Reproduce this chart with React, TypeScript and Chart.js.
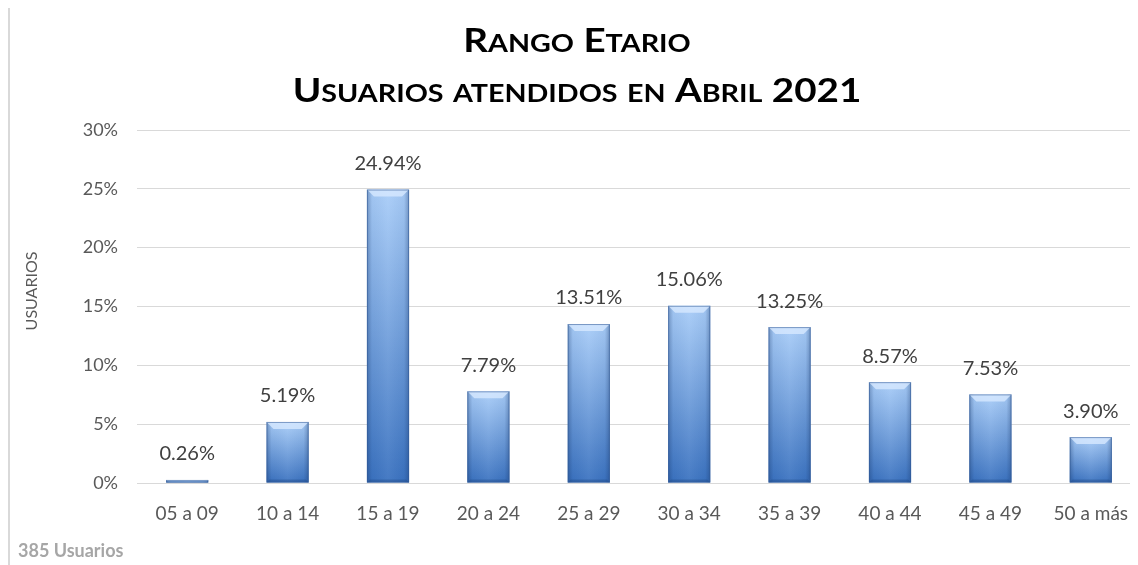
import React, { useEffect, useRef } from "react";
import { Chart, registerables } from "chart.js";

Chart.register(...registerables);

const categories = ["05 a 09", "10 a 14", "15 a 19", "20 a 24", "25 a 29", "30 a 34", "35 a 39", "40 a 44", "45 a 49", "50 a más"];
const percentages = [0.26, 5.19, 24.94, 7.79, 13.51, 15.06, 13.25, 8.57, 7.53, 3.9];
const titleLines = ["Rango Etario", "Usuarios atendidos en Abril 2021"];
const yAxisTitle = "USUARIOS";
const footnote = "385 Usuarios";
const yMax = 30;
const yStep = 5;

const FONT = "Lato, 'Open Sans', sans-serif";

const barBevelPlugin = {
  id: "barBevel",
  afterDatasetsDraw(chart: any) {
    const meta = chart.getDatasetMeta(0);
    const ctx = chart.ctx;
    meta.data.forEach((el: any) => {
      const { x, y, base, width } = el.getProps(["x", "y", "base", "width"], true);
      const l = x - width / 2;
      const r = x + width / 2;
      const t = Math.min(y, base);
      const b = Math.max(y, base);
      const h = b - t;
      if (h < 1) return;
      ctx.save();
      const hg = ctx.createLinearGradient(l, 0, r, 0);
      hg.addColorStop(0, "rgba(20,50,100,0.35)");
      hg.addColorStop(0.12, "rgba(20,50,100,0.05)");
      hg.addColorStop(0.5, "rgba(255,255,255,0.06)");
      hg.addColorStop(0.88, "rgba(20,50,100,0.05)");
      hg.addColorStop(1, "rgba(20,50,100,0.35)");
      ctx.fillStyle = hg;
      ctx.fillRect(l, t, width, h);
      const bv = Math.min(7, h / 2);
      ctx.beginPath();
      ctx.moveTo(l, t);
      ctx.lineTo(r, t);
      ctx.lineTo(r - bv, t + bv);
      ctx.lineTo(l + bv, t + bv);
      ctx.closePath();
      ctx.fillStyle = "rgba(215,232,255,0.8)";
      ctx.fill();
      const bb = Math.min(3, h / 3);
      ctx.beginPath();
      ctx.moveTo(l, b);
      ctx.lineTo(r, b);
      ctx.lineTo(r - bb, b - bb);
      ctx.lineTo(l + bb, b - bb);
      ctx.closePath();
      ctx.fillStyle = "rgba(30,70,130,0.35)";
      ctx.fill();
      ctx.strokeStyle = "rgba(50,90,150,0.55)";
      ctx.lineWidth = 1;
      ctx.strokeRect(l + 0.5, t + 0.5, width - 1, h - 1);
      ctx.restore();
    });
  },
};

const dataLabelPlugin = {
  id: "dataLabels",
  afterDatasetsDraw(chart: any) {
    const meta = chart.getDatasetMeta(0);
    const ctx = chart.ctx;
    ctx.save();
    ctx.font = `20px ${FONT}`;
    ctx.fillStyle = "#404040";
    ctx.textAlign = "center";
    ctx.textBaseline = "middle";
    meta.data.forEach((el: any, i: number) => {
      const { x, y } = el.getProps(["x", "y"], true);
      ctx.fillText(percentages[i].toFixed(2) + "%", x, y - 26);
    });
    ctx.restore();
  },
};

function drawSmallCaps(ctx: CanvasRenderingContext2D, text: string, cx: number, baseline: number, big: number, small: number, stretch: number) {
  const segs: { s: string; size: number }[] = [];
  for (const ch of text) {
    const isLower = ch !== ch.toUpperCase();
    const size = isLower ? small : big;
    const s = isLower ? ch.toUpperCase() : ch;
    const last = segs[segs.length - 1];
    if (last && last.size === size) last.s += s;
    else segs.push({ s, size });
  }
  let total = 0;
  const widths = segs.map((sg) => {
    ctx.font = `bold ${sg.size}px ${FONT}`;
    const w = ctx.measureText(sg.s).width;
    total += w;
    return w;
  });
  ctx.save();
  ctx.translate(cx, baseline);
  ctx.scale(stretch, 1);
  let x = -total / 2;
  segs.forEach((sg, i) => {
    ctx.font = `bold ${sg.size}px ${FONT}`;
    ctx.fillText(sg.s, x, 0);
    x += widths[i];
  });
  ctx.restore();
}

const titlePlugin = {
  id: "smallCapsTitle",
  afterDraw(chart: any) {
    const ctx = chart.ctx;
    ctx.save();
    ctx.fillStyle = "#000000";
    ctx.textAlign = "left";
    ctx.textBaseline = "alphabetic";
    drawSmallCaps(ctx, titleLines[0], 567, 44, 33, 24.5, 1.17);
    drawSmallCaps(ctx, titleLines[1], 567, 94, 33, 24.5, 1.17);
    ctx.restore();
    ctx.save();
    ctx.translate(22, 283);
    ctx.rotate(-Math.PI / 2);
    ctx.font = `16px ${FONT}`;
    ctx.fillStyle = "#595959";
    ctx.textAlign = "center";
    ctx.textBaseline = "middle";
    ctx.fillText(yAxisTitle, 0, 0);
    ctx.restore();
  },
};

export default function App() {
  const ref = useRef<HTMLCanvasElement>(null);
  useEffect(() => {
    if (!ref.current) return;
    const chart = new Chart(ref.current, {
      type: "bar",
      data: {
        labels: categories,
        datasets: [
          {
            data: percentages,
            barPercentage: 0.42,
            categoryPercentage: 1,
            borderWidth: 0,
            backgroundColor: (c: any) => {
              const ch = c.chart;
              if (!ch.chartArea || c.raw == null) return "#6fa0e0";
              const top = ch.scales.y.getPixelForValue(c.raw);
              const base = ch.scales.y.getPixelForValue(0);
              if (base - top < 1) return "#8fb6ea";
              const g = ch.ctx.createLinearGradient(0, top, 0, base);
              g.addColorStop(0, "#a9cdf8");
              g.addColorStop(1, "#3a72c0");
              return g;
            },
          },
        ],
      },
      options: {
        responsive: false,
        animation: false,
        layout: { padding: { left: 8, right: 9, top: 122, bottom: 0 } },
        plugins: {
          legend: { display: false },
          tooltip: { enabled: false },
          title: { display: false },
          subtitle: {
            display: true,
            position: "bottom",
            align: "start",
            text: footnote,
            color: "#a6a6a6",
            font: { family: FONT, size: 18, weight: "bold", lineHeight: 1.2 },
            padding: { top: 0, bottom: 3 },
          },
        },
        scales: {
          x: {
            grid: { display: false, drawTicks: false },
            border: { display: false },
            ticks: { color: "#595959", font: { family: FONT, size: 19 }, padding: 19, maxRotation: 0, autoSkip: false },
            afterFit: (s: any) => {
              s.height = 57.4;
            },
          },
          y: {
            min: 0,
            max: yMax,
            grid: { color: "#d9d9d9", lineWidth: 1, drawTicks: false },
            border: { display: false },
            ticks: {
              stepSize: yStep,
              color: "#595959",
              font: { family: FONT, size: 18 },
              padding: 19,
              callback: (v: any) => v + "%",
            },
            afterFit: (s: any) => {
              s.width = 119;
            },
          },
        },
      },
      plugins: [barBevelPlugin, dataLabelPlugin, titlePlugin],
    });
    return () => chart.destroy();
  }, []);
  return (
    <div
      style={{
        width: 1130,
        height: 559,
        marginTop: -2,
        borderTop: "2px solid #d9d9d9",
        borderLeft: "2px solid #d9d9d9",
        overflow: "hidden",
        boxSizing: "border-box",
        background: "#ffffff",
      }}
    >
      <canvas ref={ref} width={1140} height={557} style={{ display: "block", width: 1140, height: 557 }} />
    </div>
  );
}
